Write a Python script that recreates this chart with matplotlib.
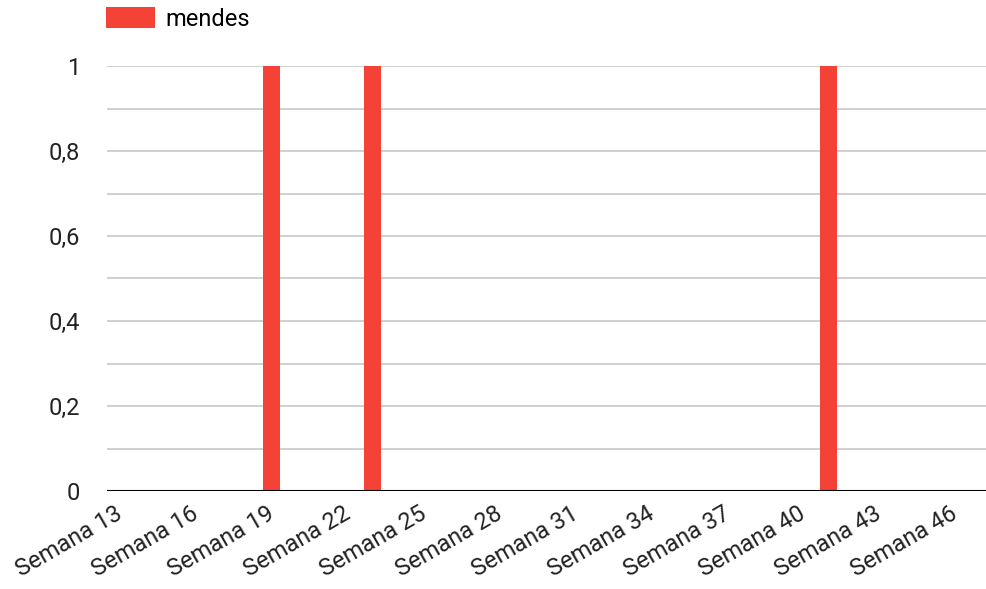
import numpy as np
import matplotlib.pyplot as plt
import matplotlib.transforms as mtransforms
from matplotlib.ticker import MultipleLocator, FuncFormatter

plt.rcParams['font.family'] = ['Roboto', 'DejaVu Sans']

weeks = list(range(13, 47))
mendes = [0] * len(weeks)
for w in (19, 23, 41):
    mendes[weeks.index(w)] = 1
tick_weeks = list(range(13, 47, 3))
tick_labels = [f"Semana {w}" for w in tick_weeks]

fig = plt.figure(figsize=(9.87, 5.89), dpi=100)
ax = fig.add_axes([107 / 987, 1 - 491 / 589, 880 / 987, 425 / 589])

ax.bar(weeks, mendes, width=0.67, color='#f44336', zorder=3, label='mendes')

ax.set_xlim(12.49, 47.27)
ax.set_ylim(0, 1)
ax.yaxis.set_major_locator(MultipleLocator(0.2))
ax.yaxis.set_minor_locator(MultipleLocator(0.1))
ax.yaxis.set_major_formatter(FuncFormatter(lambda v, p: f"{v:g}".replace('.', ',')))
ax.grid(axis='y', which='both', color='#cccccc', linewidth=1.3, zorder=0)
ax.axhline(0, color='black', linewidth=1.5, zorder=4)

ax.set_xticks(tick_weeks)
ax.set_xticklabels(tick_labels, rotation=30, ha='right', va='top', rotation_mode='anchor')
ax.tick_params(axis='x', length=0, pad=8, labelsize=17, colors='#222222')
ax.tick_params(axis='y', which='both', length=0, pad=19.5, labelsize=17, colors='#222222')
shift = mtransforms.ScaledTranslation(-5 / 100, 0, fig.dpi_scale_trans)
for lbl in ax.get_xticklabels():
    lbl.set_transform(lbl.get_transform() + shift)
for s in ax.spines.values():
    s.set_visible(False)

fig.legend(loc='upper left', bbox_to_anchor=(106 / 987, 1 - 7 / 589), frameon=False,
           fontsize=17, handlelength=2.08, handleheight=1.02, handletextpad=0.45,
           borderaxespad=0, borderpad=0)

fig.savefig('out.png', dpi=100)
